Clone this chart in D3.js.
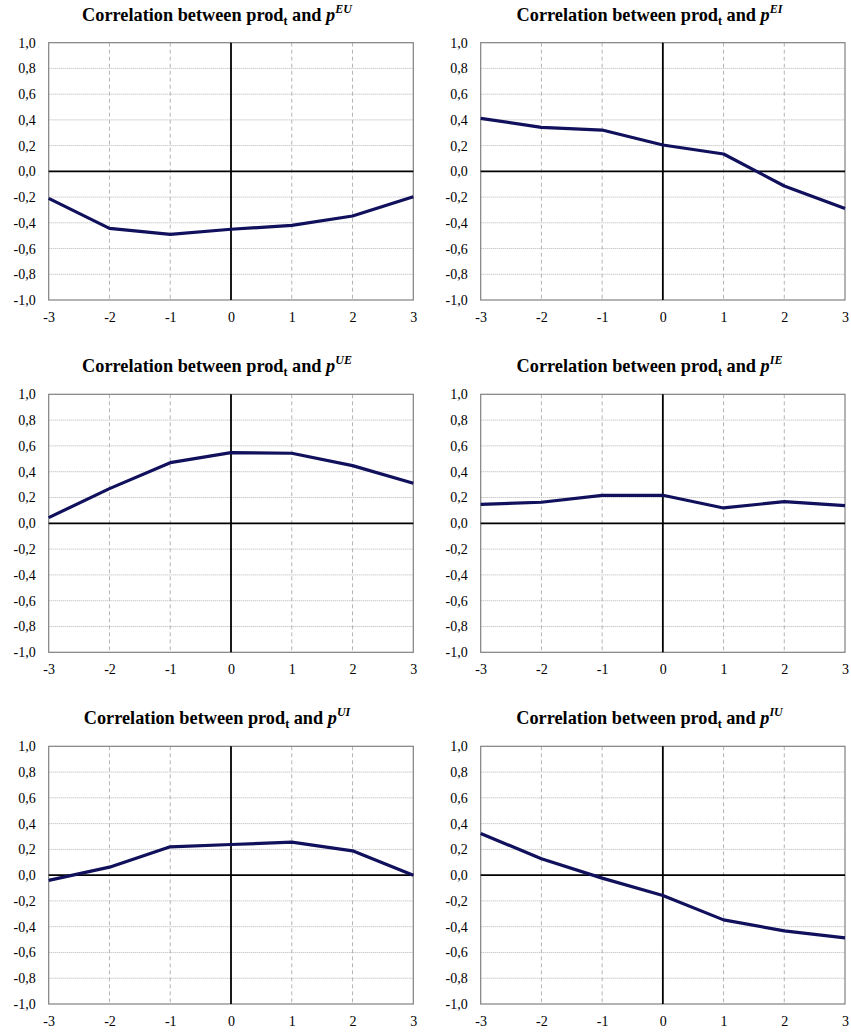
<!DOCTYPE html>
<html><head><meta charset="utf-8">
<script src="https://cdn.jsdelivr.net/npm/d3@7"></script>
<style>body{margin:0;background:#fff}svg{display:block}
text{font-family:"Liberation Serif","Times New Roman","DejaVu Serif",serif}</style>
</head><body>
<svg id="c" width="851" height="1034"></svg>
<script>
const lags = [-3, -2, -1, 0, 1, 2, 3];
const yTicks = [-1.0, -0.8, -0.6, -0.4, -0.2, 0.0, 0.2, 0.4, 0.6, 0.8, 1.0];
const titleSups = ["EU", "EI", "UE", "IE", "UI", "IU"];
const corrEU = [-0.21, -0.443, -0.49, -0.45, -0.42, -0.347, -0.197];
const corrEI = [0.412, 0.342, 0.321, 0.205, 0.135, -0.114, -0.288];
const corrUE = [0.044, 0.269, 0.47, 0.548, 0.543, 0.447, 0.31];
const corrIE = [0.147, 0.163, 0.217, 0.217, 0.119, 0.168, 0.137];
const corrUI = [-0.041, 0.062, 0.22, 0.238, 0.256, 0.189, 0.0];
const corrIU = [0.324, 0.127, -0.023, -0.158, -0.347, -0.433, -0.487];
const series = [corrEU, corrEI, corrUE, corrIE, corrUI, corrIU];

const svg = d3.select("#c");
const colX = [[48.7, 413.3], [480.7, 845]];
const rowY = [[42.7, 300], [394.3, 652.3], [746.3, 1004]];
const titleX = [217, 649.5];
const fmt = v => d3.format(".1f")(v).replace(".", ",").replace("−", "-");
const FF = '"Liberation Serif","Times New Roman","DejaVu Serif",serif';

series.forEach((vals, i) => {
  const c = i % 2, r = Math.floor(i / 2);
  const x = d3.scaleLinear().domain([-3, 3]).range(colX[c]);
  const y = d3.scaleLinear().domain([-1, 1]).range([rowY[r][1], rowY[r][0]]);
  const g = svg.append("g");
  g.append("g").selectAll("line").data(yTicks.filter(v => v !== 0 && Math.abs(v) !== 1)).join("line")
    .attr("x1", colX[c][0]).attr("x2", colX[c][1])
    .attr("y1", d => y(d)).attr("y2", d => y(d))
    .attr("stroke", "#b4b4b4").attr("stroke-width", 1).attr("stroke-dasharray", "1,1");
  g.append("g").selectAll("line").data(lags.filter(v => v !== 0 && Math.abs(v) !== 3)).join("line")
    .attr("x1", d => x(d)).attr("x2", d => x(d))
    .attr("y1", rowY[r][0]).attr("y2", rowY[r][1])
    .attr("stroke", "#b4b4b4").attr("stroke-width", 1).attr("stroke-dasharray", "4,3");
  g.append("rect").attr("x", colX[c][0]).attr("y", rowY[r][0])
    .attr("width", colX[c][1] - colX[c][0]).attr("height", rowY[r][1] - rowY[r][0])
    .attr("fill", "none").attr("stroke", "#808080").attr("stroke-width", 1.2);
  g.append("line").attr("x1", colX[c][0]).attr("x2", colX[c][1]).attr("y1", y(0)).attr("y2", y(0))
    .attr("stroke", "#000").attr("stroke-width", 1.8);
  g.append("line").attr("x1", x(0)).attr("x2", x(0)).attr("y1", rowY[r][0]).attr("y2", rowY[r][1])
    .attr("stroke", "#000").attr("stroke-width", 1.8);
  const ya = d3.axisLeft(y).tickValues(yTicks).tickFormat(fmt).tickSize(0).tickPadding(13);
  g.append("g").attr("transform", `translate(${colX[c][0]},0)`).call(ya)
    .attr("font-family", FF)
    .call(s => s.select(".domain").remove())
    .selectAll("text").attr("font-size", 14).attr("fill", "#000");
  const xa = d3.axisBottom(x).tickValues(lags).tickFormat(d => String(d)).tickSize(0).tickPadding(12);
  g.append("g").attr("transform", `translate(0,${rowY[r][1]})`).call(xa)
    .attr("font-family", FF)
    .call(s => s.select(".domain").remove())
    .selectAll("text").attr("font-size", 14).attr("fill", "#000");
  g.append("path").datum(vals)
    .attr("d", d3.line().x((d, k) => x(lags[k])).y(d => y(d)))
    .attr("fill", "none").attr("stroke", "#10105c").attr("stroke-width", 3.2)
    .attr("stroke-linejoin", "round");
  const t = svg.append("text").attr("x", titleX[c]).attr("y", rowY[r][0] - 22)
    .attr("text-anchor", "middle").attr("font-family", FF)
    .attr("font-weight", "bold").attr("font-size", 18.3).attr("fill", "#000");
  t.append("tspan").text("Correlation between prod");
  t.append("tspan").text("t").attr("font-size", 12).attr("dy", 4);
  t.append("tspan").text(" and ").attr("dy", -4);
  t.append("tspan").text("p").attr("font-style", "italic");
  t.append("tspan").text(titleSups[i]).attr("font-style", "italic").attr("font-size", 12).attr("dy", -8);
});
</script>
</body></html>
